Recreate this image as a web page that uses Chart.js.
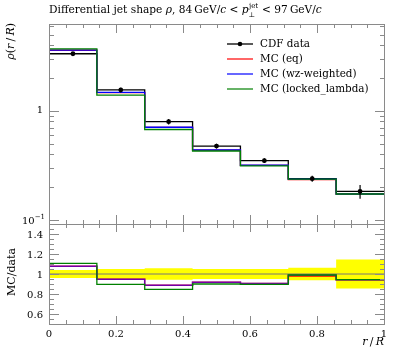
<!DOCTYPE html>
<html><head><meta charset="utf-8">
<script src="https://cdn.jsdelivr.net/npm/chart.js@4/dist/chart.umd.min.js"></script>
<style>
html,body{margin:0;padding:0;background:#fff;}
#wrap{position:relative;width:397px;height:358px;}
canvas{position:absolute;left:0;top:0;}
</style></head><body>
<div id="wrap"><canvas id="ratio" width="397" height="358"></canvas><canvas id="main" width="397" height="358"></canvas></div>
<script>
// ---- data ----
const binEdges = [0, 0.142857, 0.285714, 0.428571, 0.571429, 0.714286, 0.857143, 1.0];
const dataValues = [3.33, 1.55, 0.793, 0.474, 0.348, 0.238, 0.182];
const dataRelErr = [0.04, 0.05, 0.057, 0.05, 0.05, 0.063, 0.145];
const mcEq = [3.586, 1.468, 0.703, 0.435, 0.315, 0.233, 0.172];
const mcWz = [3.590, 1.470, 0.705, 0.436, 0.316, 0.236, 0.172];
const mcLocked = [3.686, 1.390, 0.672, 0.427, 0.312, 0.236, 0.172];
const ratioEq = [1.077, 0.947, 0.887, 0.917, 0.905, 0.980, 0.943];
const ratioWz = [1.077, 0.947, 0.887, 0.917, 0.905, 0.990, 0.943];
const ratioLocked = [1.107, 0.897, 0.847, 0.900, 0.897, 0.990, 0.943];
const seriesLabels = ['CDF data', 'MC (eq)', 'MC (wz-weighted)', 'MC (locked_lambda)'];
const xTickValues = [0, 0.2, 0.4, 0.6, 0.8, 1];
const xTickLabels = ['0', '0.2', '0.4', '0.6', '0.8', '1'];
const ratioTickValues = [0.6, 0.8, 1.0, 1.2, 1.4];
const ratioTickLabels = ['0.6', '0.8', '1', '1.2', '1.4'];

const FONT = '"DejaVu Serif", serif';
const FRAME = '#8a8a8a';

function steps(vals) {
  const pts = vals.map((v, i) => ({x: binEdges[i], y: v}));
  pts.push({x: binEdges[vals.length], y: vals[vals.length - 1]});
  return pts;
}
function centers(vals) {
  return vals.map((v, i) => ({x: (binEdges[i] + binEdges[i + 1]) / 2, y: v}));
}
const px = v => Math.round(v) + 0.5;

function drawTicksX(ctx, sx, yLine, dir, majorLen, minorLen) {
  ctx.strokeStyle = FRAME; ctx.lineWidth = 1;
  for (let k = 0; k <= 20; k++) {
    const v = k * 0.05;
    const major = k % 4 === 0;
    const x = px(sx.getPixelForValue(v));
    const len = major ? majorLen : minorLen;
    ctx.beginPath(); ctx.moveTo(x, yLine); ctx.lineTo(x, yLine + dir * len); ctx.stroke();
  }
}
function drawTicksY(ctx, sy, vals, len, left, right) {
  ctx.strokeStyle = FRAME; ctx.lineWidth = 1;
  vals.forEach(v => {
    const y = px(sy.getPixelForValue(v));
    ctx.beginPath(); ctx.moveTo(left, y); ctx.lineTo(left + len, y); ctx.stroke();
    ctx.beginPath(); ctx.moveTo(right, y); ctx.lineTo(right - len, y); ctx.stroke();
  });
}
function setFont(ctx, p) { ctx.font = (p.italic ? 'italic ' : '') + p.size + 'px ' + FONT; }
function piecesWidth(ctx, pieces) {
  let w = 0;
  pieces.forEach(p => { setFont(ctx, p); w += ctx.measureText(p.t).width + (p.adv || 0); });
  return w;
}
function drawPieces(ctx, x, y, pieces) {
  pieces.forEach(p => {
    setFont(ctx, p);
    ctx.fillText(p.t, x, y + (p.dy || 0));
    x += ctx.measureText(p.t).width + (p.adv || 0);
  });
  return x;
}

const mainPlugin = {
  id: 'mainDecor',
  afterDatasetsDraw(chart) {
    const ctx = chart.ctx, a = chart.chartArea;
    const sx = chart.scales.x, sy = chart.scales.y;
    ctx.save();
    // data error bars
    ctx.strokeStyle = '#000'; ctx.lineWidth = 1.2;
    dataValues.forEach((v, i) => {
      const c = (binEdges[i] + binEdges[i + 1]) / 2;
      const x = sx.getPixelForValue(c);
      ctx.beginPath();
      ctx.moveTo(x, sy.getPixelForValue(v * (1 + dataRelErr[i])));
      ctx.lineTo(x, sy.getPixelForValue(v * (1 - dataRelErr[i])));
      ctx.stroke();
    });
    // frame
    ctx.strokeStyle = FRAME; ctx.lineWidth = 1;
    ctx.strokeRect(px(a.left), px(a.top), Math.round(a.right) - Math.round(a.left), Math.round(a.bottom) - Math.round(a.top));
    drawTicksX(ctx, sx, a.top, 1, 9, 4);
    drawTicksX(ctx, sx, a.bottom, -1, 9, 4);
    drawTicksY(ctx, sy, [0.1, 1], 10, a.left, a.right + 1);
    drawTicksY(ctx, sy, [0.2,0.3,0.4,0.5,0.6,0.7,0.8,0.9,2,3,4,5,6], 5, a.left, a.right + 1);
    // y tick labels
    ctx.fillStyle = '#000'; ctx.textBaseline = 'middle'; ctx.textAlign = 'right';
    ctx.font = '10px ' + FONT;
    ctx.fillText('1', 43, sy.getPixelForValue(1));
    ctx.textAlign = 'left'; ctx.textBaseline = 'alphabetic';
    const y01 = sy.getPixelForValue(0.1);
    drawPieces(ctx, 22, y01 + 4, [{t: '10', size: 10}, {t: '\u22121', size: 7, dy: -5}]);
    // title
    const S = 10.6;
    let tx = drawPieces(ctx, 49, 13, [
      {t: 'Differential jet shape ', size: S},
      {t: '\u03c1', size: S, italic: true},
      {t: ', 84\u2009GeV/', size: S},
      {t: 'c', size: S, italic: true},
      {t: ' < ', size: S},
      {t: 'p', size: S, italic: true}
    ]);
    ctx.font = '7px ' + FONT;
    ctx.fillText('jet', tx + 0.5, 8);
    ctx.fillText('\u22a5', tx, 17);
    tx += ctx.measureText('jet').width + 1;
    drawPieces(ctx, tx, 13, [
      {t: ' < 97\u2009GeV/', size: S},
      {t: 'c', size: S, italic: true}
    ]);
    // y axis label
    ctx.save();
    ctx.translate(14, 23); ctx.rotate(-Math.PI / 2);
    ctx.textAlign = 'left';
    const lab = [{t: '\u03c1', size: 11, italic: true}, {t: '(', size: 11}, {t: 'r', size: 11, italic: true},
                 {t: '\u2009/\u2009', size: 11}, {t: 'R', size: 11, italic: true}, {t: ')', size: 11}];
    drawPieces(ctx, -piecesWidth(ctx, lab), 0, lab);
    ctx.restore();
    // legend
    const ds = chart.data.datasets;
    const legendItems = [
      {label: seriesLabels[0], color: '#000', dot: true},
      {label: seriesLabels[1], color: ds[1].borderColor},
      {label: seriesLabels[2], color: ds[2].borderColor},
      {label: seriesLabels[3], color: ds[3].borderColor}
    ];
    ctx.font = '10.4px ' + FONT; ctx.textBaseline = 'middle'; ctx.textAlign = 'left';
    legendItems.forEach((it, i) => {
      const y = 44 + i * 15;
      ctx.strokeStyle = it.color; ctx.lineWidth = it.dot ? 1.3 : 1.2;
      ctx.beginPath(); ctx.moveTo(227, y); ctx.lineTo(253, y); ctx.stroke();
      if (it.dot) { ctx.fillStyle = '#000'; ctx.beginPath(); ctx.arc(240, y, 2.3, 0, Math.PI * 2); ctx.fill(); }
      ctx.fillStyle = '#000';
      ctx.fillText(it.label, 260, y + 0.5);
    });
    ctx.restore();
  }
};

new Chart(document.getElementById('main'), {
  type: 'line',
  data: {
    datasets: [
      {label: seriesLabels[0], data: steps(dataValues), stepped: 'before', borderColor: '#000', borderWidth: 1.3, pointRadius: 0, order: 5},
      {label: seriesLabels[1], data: steps(mcEq), stepped: 'before', borderColor: '#ff0000', borderWidth: 1.3, pointRadius: 0, order: 4},
      {label: seriesLabels[2], data: steps(mcWz), stepped: 'before', borderColor: '#0000ff', borderWidth: 1.3, pointRadius: 0, order: 3},
      {label: seriesLabels[3], data: steps(mcLocked), stepped: 'before', borderColor: '#008000', borderWidth: 1.3, pointRadius: 0, order: 2},
      {label: 'points', data: centers(dataValues), showLine: false, pointRadius: 2.4, pointBackgroundColor: '#000', pointBorderWidth: 0, order: 1}
    ]
  },
  options: {
    responsive: false, animation: false, devicePixelRatio: 1,
    layout: {padding: {left: 49, top: 24, right: 13, bottom: 134}},
    scales: {
      x: {type: 'linear', min: 0, max: 1, display: false},
      y: {type: 'logarithmic', min: 0.0913, max: 6.245, bounds: 'data', display: false}
    },
    plugins: {legend: {display: false}, tooltip: {enabled: false}}
  },
  plugins: [mainPlugin]
});

const ratioPlugin = {
  id: 'ratioDecor',
  afterDatasetsDraw(chart) {
    const ctx = chart.ctx, a = chart.chartArea;
    const sx = chart.scales.x, sy = chart.scales.y;
    ctx.save();
    ctx.strokeStyle = FRAME; ctx.lineWidth = 1;
    ctx.strokeRect(px(a.left), px(a.top), Math.round(a.right) - Math.round(a.left), Math.round(a.bottom) - Math.round(a.top));
    drawTicksX(ctx, sx, a.top, 1, 8, 4);
    drawTicksX(ctx, sx, a.bottom, -1, 8, 4);
    drawTicksY(ctx, sy, ratioTickValues, 10, a.left, a.right + 1);
    const minors = [];
    for (let k = 10; k <= 30; k++) { if (k % 4 !== 0) minors.push(k * 0.05); }
    drawTicksY(ctx, sy, minors, 5, a.left, a.right + 1);
    ctx.fillStyle = '#000'; ctx.font = '10px ' + FONT;
    ctx.textAlign = 'right'; ctx.textBaseline = 'middle';
    ratioTickValues.forEach((v, i) => ctx.fillText(ratioTickLabels[i], 43, sy.getPixelForValue(v) + 1));
    ctx.textAlign = 'center'; ctx.textBaseline = 'alphabetic';
    xTickValues.forEach((v, i) => ctx.fillText(xTickLabels[i], sx.getPixelForValue(v), 337));
    // x label
    ctx.textAlign = 'left';
    const xl = [{t: 'r', size: 11, italic: true}, {t: '\u2009/\u2009', size: 11}, {t: 'R', size: 11, italic: true}];
    drawPieces(ctx, a.right - piecesWidth(ctx, xl), 345, xl);
    // y label
    ctx.save();
    ctx.translate(15, (a.top + a.bottom) / 2 - 2); ctx.rotate(-Math.PI / 2);
    ctx.font = '11px ' + FONT; ctx.textAlign = 'center';
    ctx.fillText('MC/data', 0, 0);
    ctx.restore();
    ctx.restore();
  }
};

new Chart(document.getElementById('ratio'), {
  type: 'line',
  data: {
    datasets: [
      {label: 'band up', data: steps(dataRelErr.map(e => 1 + e)), stepped: 'before', borderWidth: 0, borderColor: 'rgba(0,0,0,0)', backgroundColor: '#ffff00', fill: '+1', pointRadius: 0, order: 10},
      {label: 'band down', data: steps(dataRelErr.map(e => 1 - e)), stepped: 'before', borderWidth: 0, borderColor: 'rgba(0,0,0,0)', pointRadius: 0, fill: false, order: 11},
      {label: 'unity', data: [{x: 0, y: 1}, {x: 1, y: 1}], borderColor: '#777', borderWidth: 1, pointRadius: 0, order: 9},
      {label: seriesLabels[1], data: steps(ratioEq), stepped: 'before', borderColor: '#ff0000', borderWidth: 1.4, pointRadius: 0, order: 4},
      {label: seriesLabels[2], data: steps(ratioWz), stepped: 'before', borderColor: 'rgba(40,0,255,0.65)', borderWidth: 1.6, pointRadius: 0, order: 3},
      {label: seriesLabels[3], data: steps(ratioLocked), stepped: 'before', borderColor: '#008000', borderWidth: 1.3, pointRadius: 0, order: 2}
    ]
  },
  options: {
    responsive: false, animation: false, devicePixelRatio: 1,
    layout: {padding: {left: 49, top: 224, right: 13, bottom: 34}},
    scales: {
      x: {type: 'linear', min: 0, max: 1, display: false},
      y: {type: 'linear', min: 0.5, max: 1.5, display: false}
    },
    plugins: {legend: {display: false}, tooltip: {enabled: false}, filler: {propagate: false}}
  },
  plugins: [ratioPlugin]
});
</script>
</body></html>
